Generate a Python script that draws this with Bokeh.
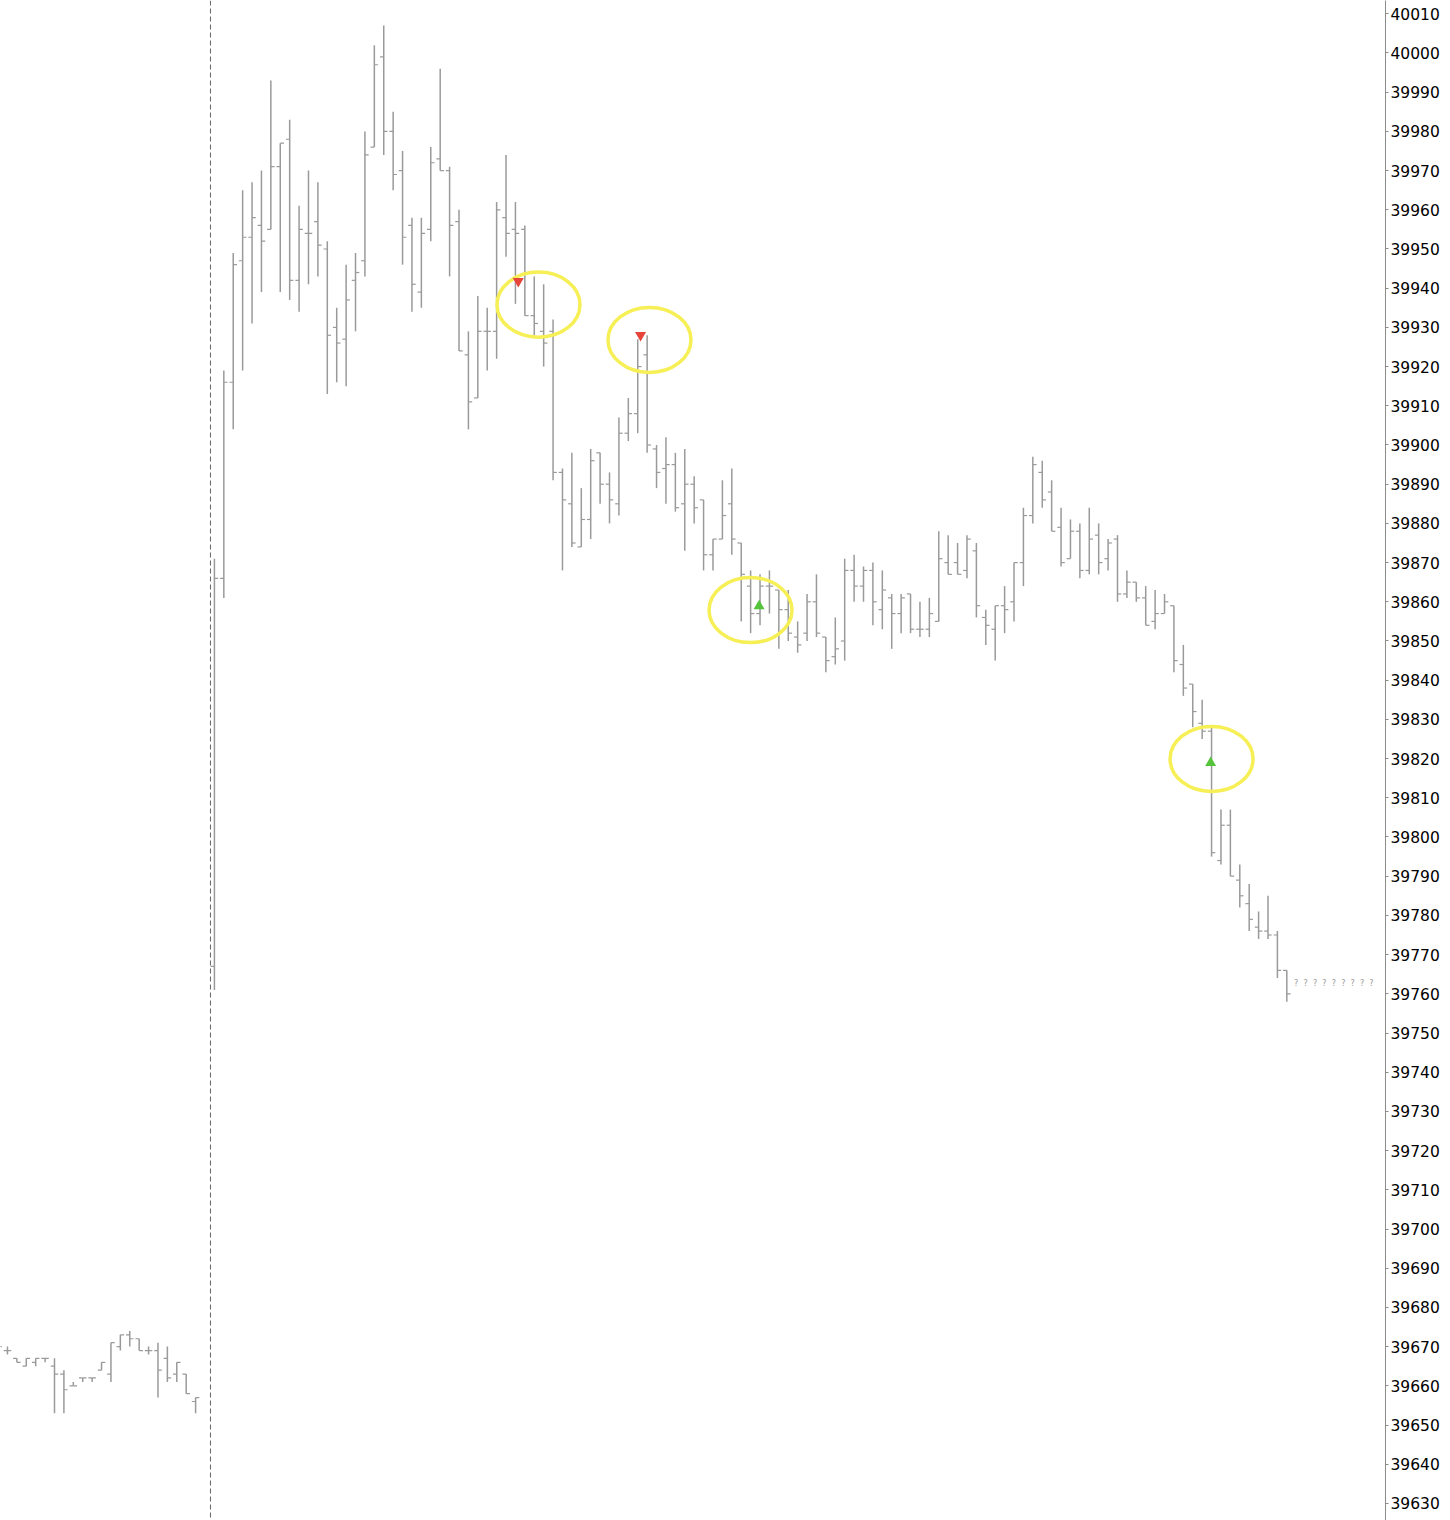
from bokeh.plotting import figure
from bokeh.models import Range1d, FixedTicker, Span, ColumnDataSource
from bokeh.transform import dodge
from bokeh.core.properties import value
from bokeh.embed import file_html
from bokeh.resources import INLINE

# ---- previous session (left of separator), bar index, OHLC ----
prev_idx = list(range(-23, -1))
prev_open = [39670, 39669, 39667, 39665, 39666, 39667, 39665, 39663, 39660, 39662, 39662, 39664,
             39663, 39670, 39673, 39672, 39669, 39669, 39667, 39663, 39663, 39656]
prev_high = [39671, 39670, 39667, 39667, 39667, 39667, 39667, 39664, 39661, 39662, 39662, 39666,
             39671, 39673, 39674, 39672, 39670, 39671, 39670, 39666, 39663, 39657]
prev_low = [39669, 39668, 39666, 39665, 39665, 39666, 39653, 39653, 39660, 39661, 39661, 39664,
            39661, 39669, 39670, 39669, 39668, 39657, 39661, 39661, 39658, 39653]
prev_close = [39670, 39669, 39666, 39667, 39667, 39667, 39663, 39659, 39660, 39662, 39662, 39666,
              39671, 39673, 39672, 39669, 39669, 39664, 39662, 39666, 39658, 39657]

# ---- current session, bar index 0..114, OHLC ----
cur_open = [39767, 39866, 39916, 39947, 39953, 39956, 39955, 39971, 39978, 39942,
            39954, 39957, 39950, 39930, 39927, 39942, 39947, 39976, 39999, 39980,
            39970, 39956, 39939, 39955, 39973, 39970, 39957, 39923, 39912, 39929,
            39929, 39958, 39955, 39955, 39933, 39929, 39929, 39893, 39885, 39874,
            39881, 39898, 39890, 39885, 39903, 39908, 39923, 39899, 39894, 39895,
            39885, 39890, 39886, 39872, 39876, 39885, 39875, 39864, 39857, 39864,
            39863, 39858, 39851, 39852, 39860, 39851, 39846, 39850, 39868, 39864,
            39868, 39858, 39861, 39857, 39862, 39853, 39853, 39855, 39870, 39870,
            39868, 39873, 39856, 39853, 39859, 39860, 39870, 39882, 39893, 39888,
            39879, 39871, 39878, 39868, 39877, 39871, 39876, 39862, 39865, 39861,
            39855, 39857, 39859, 39844, 39839, 39829, 39827, 39794, 39803, 39789,
            39783, 39777, 39776, 39775, 39766]
cur_high = [39871, 39919, 39949, 39965, 39967, 39970, 39993, 39977, 39983, 39961,
            39970, 39967, 39952, 39935, 39946, 39949, 39980, 40002, 40007, 39985,
            39975, 39958, 39958, 39976, 39996, 39971, 39960, 39929, 39938, 39935,
            39962, 39974, 39962, 39956, 39943, 39941, 39932, 39894, 39898, 39889,
            39899, 39898, 39893, 39907, 39912, 39927, 39928, 39900, 39902, 39898,
            39899, 39892, 39886, 39876, 39891, 39894, 39875, 39868, 39867, 39868,
            39863, 39863, 39855, 39862, 39867, 39851, 39856, 39871, 39872, 39869,
            39870, 39868, 39862, 39862, 39862, 39860, 39861, 39878, 39877, 39875,
            39877, 39875, 39858, 39859, 39864, 39870, 39884, 39897, 39896, 39891,
            39884, 39881, 39880, 39884, 39880, 39876, 39877, 39868, 39865, 39864,
            39863, 39862, 39859, 39849, 39839, 39835, 39828, 39807, 39807, 39793,
            39788, 39781, 39785, 39776, 39766]
cur_low = [39761, 39861, 39904, 39919, 39931, 39939, 39955, 39939, 39937, 39934,
           39941, 39943, 39913, 39916, 39915, 39929, 39943, 39976, 39974, 39965,
           39946, 39934, 39935, 39952, 39970, 39943, 39924, 39904, 39912, 39919,
           39922, 39948, 39936, 39933, 39928, 39920, 39891, 39868, 39874, 39874,
           39876, 39885, 39880, 39882, 39901, 39903, 39898, 39889, 39885, 39883,
           39873, 39880, 39868, 39868, 39876, 39872, 39855, 39852, 39854, 39857,
           39848, 39850, 39847, 39850, 39851, 39842, 39844, 39845, 39860, 39860,
           39854, 39853, 39848, 39852, 39852, 39851, 39851, 39855, 39867, 39867,
           39866, 39856, 39849, 39845, 39852, 39855, 39864, 39880, 39884, 39878,
           39869, 39871, 39866, 39867, 39867, 39868, 39860, 39861, 39860, 39854,
           39853, 39857, 39842, 39836, 39828, 39825, 39795, 39793, 39790, 39782,
           39776, 39774, 39774, 39764, 39758]
cur_close = [39866, 39916, 39946, 39953, 39958, 39952, 39971, 39977, 39942, 39955,
             39954, 39951, 39928, 39926, 39937, 39944, 39974, 39997, 39980, 39969,
             39953, 39941, 39954, 39972, 39970, 39956, 39924, 39911, 39929, 39929,
             39960, 39954, 39954, 39933, 39931, 39926, 39893, 39886, 39875, 39881,
             39896, 39890, 39886, 39903, 39908, 39920, 39900, 39893, 39895, 39884,
             39890, 39884, 39872, 39876, 39882, 39876, 39867, 39857, 39864, 39864,
             39858, 39852, 39849, 39860, 39852, 39845, 39848, 39868, 39864, 39868,
             39860, 39863, 39857, 39861, 39853, 39853, 39857, 39871, 39867, 39867,
             39876, 39859, 39854, 39859, 39858, 39870, 39882, 39895, 39886, 39878,
             39870, 39878, 39868, 39876, 39870, 39875, 39862, 39865, 39861, 39854,
             39857, 39860, 39845, 39838, 39832, 39827, 39796, 39803, 39790, 39785,
             39779, 39776, 39775, 39766, 39760]
cur_idx = list(range(len(cur_open)))

# ---- signals ----
sell_idx = [32, 45]
sell_price = [39941.8, 39928.0]
buy_idx = [58, 106]
buy_price = [39858.9, 39818.9]

# ---- highlighted zones (hand-drawn circles) ----
zone_x = [34.45, 46.25, 56.99, 106.0]
zone_y = [39935.8, 39926.8, 39857.9, 39819.9]

# ---- pending (future) bars ----
pending_idx = list(range(115, 124))
pending_price = [39762.6] * len(pending_idx)
pending_text = ["?"] * len(pending_idx)

separator_at = -0.42
price_ticks = list(range(39630, 40011, 10))

idx = prev_idx + cur_idx
o = prev_open + cur_open
h = prev_high + cur_high
l = prev_low + cur_low
c = prev_close + cur_close

src = ColumnDataSource(dict(x=idx, o=o, h=h, l=l, c=c))

p = figure(frame_width=1385, frame_height=1520,
           x_range=Range1d(-22.74, 124.49), y_range=Range1d(39625.64, 40013.39),
           output_backend="svg", toolbar_location=None,
           x_axis_location=None, y_axis_location="right", min_border=0)
p.background_fill_color = "white"
p.border_fill_color = "white"
p.outline_line_color = None
p.xgrid.visible = False
p.ygrid.visible = False

ax = p.yaxis[0]
ax.ticker = FixedTicker(ticks=price_ticks)
ax.major_label_text_font = "DejaVu Sans"
ax.major_label_text_font_size = "15.5px"
ax.major_label_text_color = "black"
ax.major_label_standoff = 2
ax.major_tick_out = 3
ax.major_tick_in = 0
ax.minor_tick_out = 0
ax.minor_tick_in = 0
ax.axis_line_color = "#8c8c8c"
ax.major_tick_line_color = "#8c8c8c"

bar_col = "#9a9a9a"
tick_len = 0.4
p.segment(x0="x", y0="l", x1="x", y1="h", source=src, line_color=bar_col, line_width=1.5)
p.segment(x0=dodge("x", -tick_len, range=p.x_range), y0="o", x1="x", y1="o",
          source=src, line_color=bar_col, line_width=1.2)
p.segment(x0="x", y0="c", x1=dodge("x", tick_len, range=p.x_range), y1="c",
          source=src, line_color=bar_col, line_width=1.2)

p.add_layout(Span(location=separator_at, dimension="height", line_color="#666666",
                  line_dash="5 3", line_width=1))

p.ellipse(x=zone_x, y=zone_y, width=8.82, height=16.6, fill_color=None,
          line_color="#f6ef55", line_width=3.5)

sell_src = ColumnDataSource(dict(x=sell_idx, y=sell_price))
buy_src = ColumnDataSource(dict(x=buy_idx, y=buy_price))
p.scatter(x=dodge("x", 0.3, range=p.x_range), y="y", source=sell_src, marker="inverted_triangle",
          size=11, fill_color="#e8453a", line_color="#e8453a", line_width=0)
p.scatter(x=dodge("x", -0.1, range=p.x_range), y="y", source=buy_src, marker="triangle",
          size=11, fill_color="#55c43c", line_color="#55c43c", line_width=0)

p.text(x=pending_idx, y=pending_price, text=pending_text, text_font=value("DejaVu Sans"),
       text_font_size="8px", text_color="#9a9a9a", text_align="center",
       text_baseline="middle")

open("out.html", "w").write(file_html(p, INLINE))
